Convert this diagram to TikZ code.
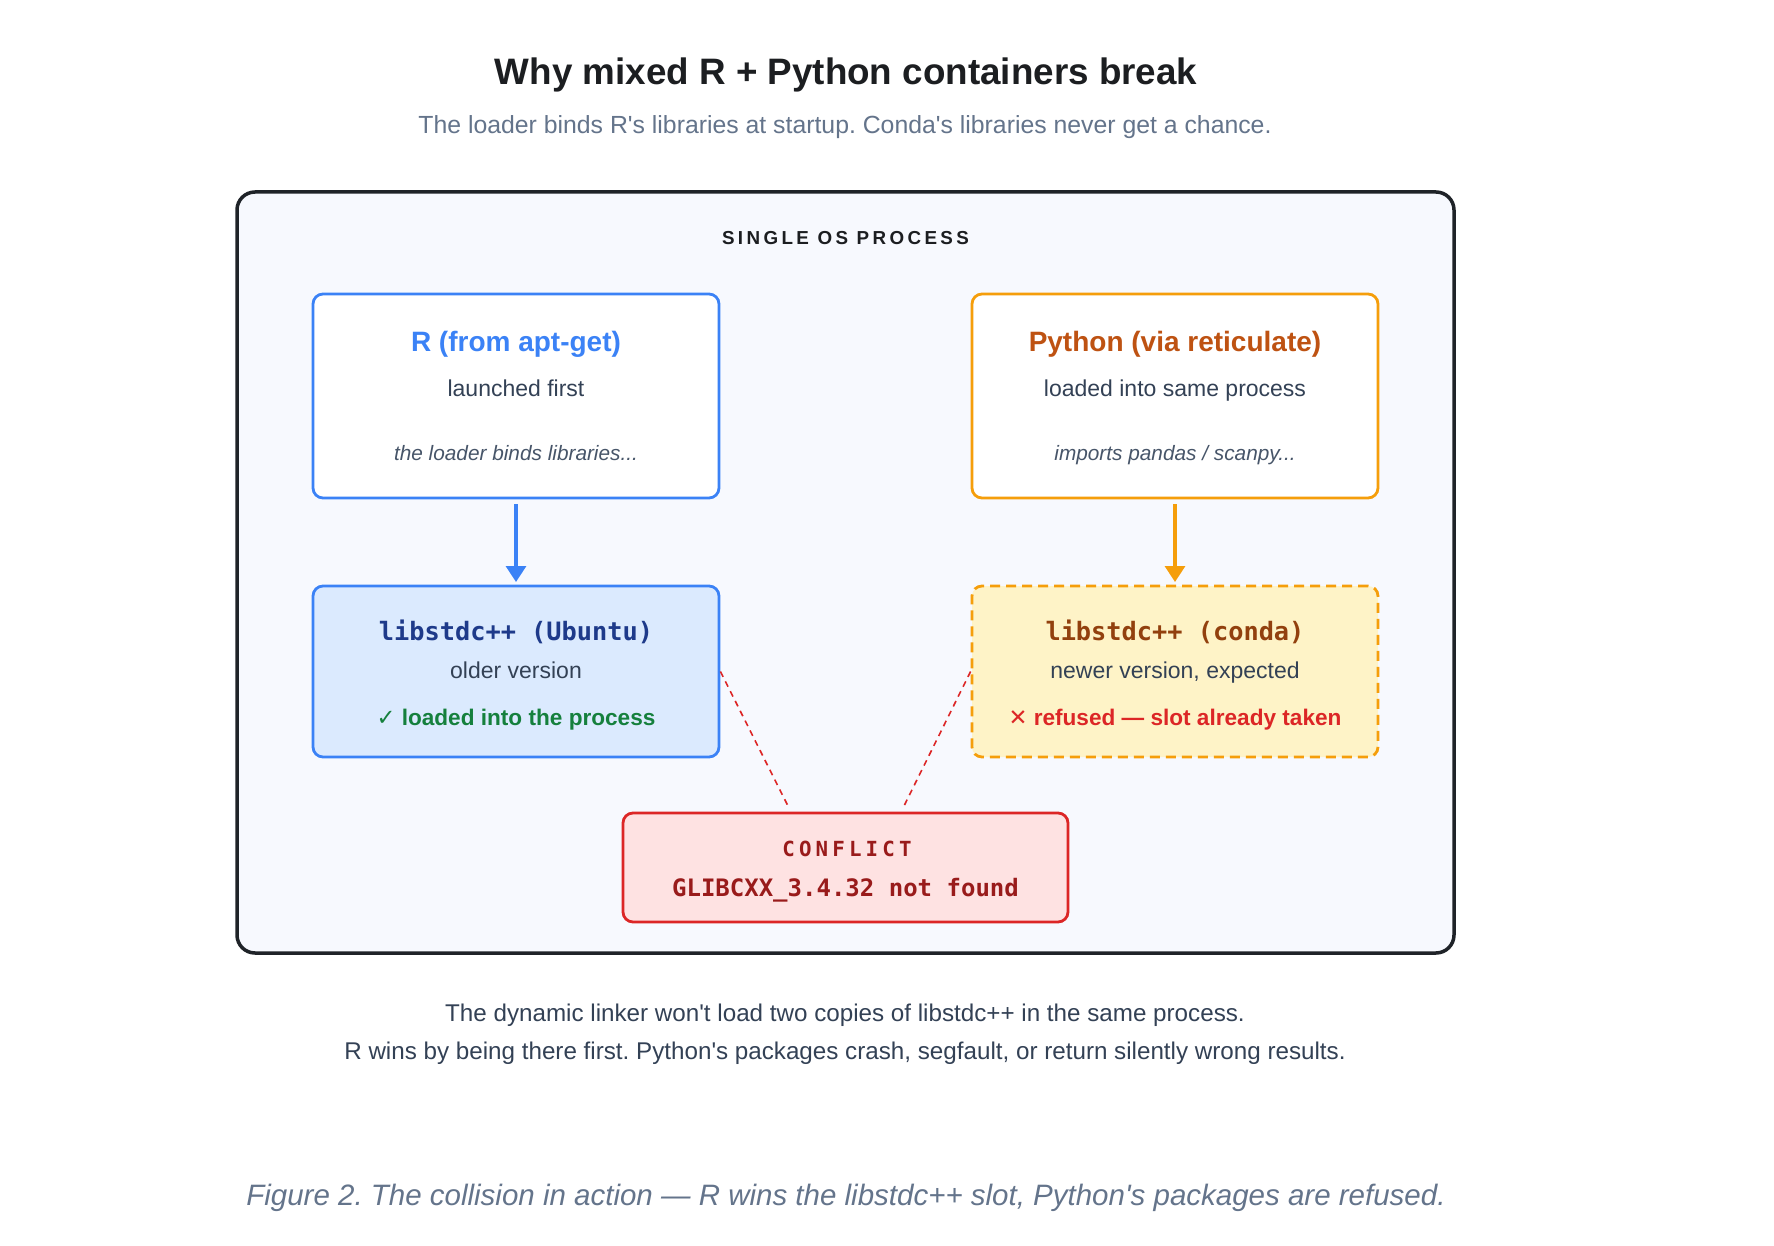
\documentclass[tikz,border=0pt]{standalone}
\usepackage{fontspec}
\usepackage{xcolor}
\setmainfont{Liberation Sans}
\setmonofont{DejaVu Sans Mono}
\newfontfamily\symfont{DejaVu Sans}
\newfontfamily\trackfont{Liberation Sans}[LetterSpace=18]
\newfontfamily\trackmono{DejaVu Sans Mono}[LetterSpace=20]
\usetikzlibrary{arrows.meta,positioning,calc}
\frenchspacing

\definecolor{inkdark}{HTML}{1C1E21}
\definecolor{inksub}{HTML}{64748B}
\definecolor{inkbody}{HTML}{334155}
\definecolor{inknote}{HTML}{475569}
\definecolor{procfill}{HTML}{F7F9FE}
\definecolor{procline}{HTML}{1F2328}
\definecolor{rblue}{HTML}{3B82F6}
\definecolor{ulibfill}{HTML}{DBEAFE}
\definecolor{ulibtext}{HTML}{1E3A8A}
\definecolor{okgreen}{HTML}{15803D}
\definecolor{pyorange}{HTML}{F59E0B}
\definecolor{pytitle}{HTML}{BE5212}
\definecolor{clibfill}{HTML}{FEF3C7}
\definecolor{clibtext}{HTML}{92400E}
\definecolor{badred}{HTML}{DC2626}
\definecolor{conffill}{HTML}{FEE2E2}
\definecolor{conftext}{HTML}{991B1B}

\newcommand{\ap}{\textquotesingle}

\begin{document}
\begin{tikzpicture}[x=0.5pt,y=-0.5pt,>={Triangle[width=10pt,length=8pt]}]
  \tikzstyle{box}=[draw,line width=1.4pt,rounded corners=5pt,minimum width=203pt]
  \tikzstyle{txt}=[anchor=mid,inner sep=0pt,align=center]
  \tikzstyle{boxtitle}=[txt,font=\bfseries\fontsize{14}{16}\selectfont]
  \tikzstyle{libtitle}=[txt,font=\ttfamily\bfseries\fontsize{12.65}{15}\selectfont]
  \tikzstyle{body}=[txt,text=inkbody,font=\fontsize{11.5}{13}\selectfont]
  \tikzstyle{note}=[txt,text=inknote,font=\itshape\fontsize{10.4}{12}\selectfont]
  \tikzstyle{status}=[txt,font=\bfseries\fontsize{11.3}{13}\selectfont]
  \tikzstyle{foot}=[txt,text=inkbody,font=\fontsize{12.1}{14}\selectfont]
  \tikzstyle{link}=[badred,line width=0.8pt,dash pattern=on 3pt off 2.5pt]

  \fill[white] (0,0) rectangle (1774,1246);
  \useasboundingbox (0,0) rectangle (1774,1246);

  % heading
  \node[txt,text=inkdark,font=\bfseries\fontsize{18.4}{22}\selectfont] (title) at (846,79) {Why mixed R + Python containers break};
  \node[txt,text=inksub,font=\fontsize{12.4}{14}\selectfont] (subtitle) at (845,128) {The loader binds R\ap s libraries at startup. Conda\ap s libraries never get a chance.};

  % process frame
  \node[draw=procline,fill=procfill,line width=1.75pt,rounded corners=9pt,minimum width=608.5pt,minimum height=380.5pt] (proc) at (845.5,572.5) {};
  \node[txt,text=inkdark,font=\trackfont\bfseries\fontsize{9.4}{11}\selectfont] (proclbl) at (845.5,239) {SINGLE OS PROCESS};

  % R side
  \node[box,draw=rblue,fill=white,minimum height=102pt] (rbox) at (516,396) {};
  \node[boxtitle,text=rblue] (rtitle) at (516,346.5) {R (from apt-get)};
  \node[body] (rsub) at (516,391) {launched first};
  \node[note] (rnote) at (516,455) {the loader binds libraries...};

  \node[box,draw=rblue,fill=ulibfill,minimum height=85.5pt] (ulib) at (516,671.5) {};
  \node[libtitle,text=ulibtext] (utitle) at (516,635.5) {libstdc++ (Ubuntu)};
  \node[body] (usub) at (516,673.5) {older version};
  \node[status,text=okgreen] (ustat) at (516,720.5) {{\symfont\bfseries ✓} loaded into the process};

  % Python side
  \node[box,draw=pyorange,fill=white,minimum height=102pt] (pybox) at (1175,396) {};
  \node[boxtitle,text=pytitle] (ptitle) at (1175,346.5) {Python (via reticulate)};
  \node[body] (psub) at (1175,391) {loaded into same process};
  \node[note] (pnote) at (1175,455) {imports pandas / scanpy...};

  \node[box,draw=pyorange,fill=clibfill,dash pattern=on 5pt off 3pt,minimum height=85.5pt] (clib) at (1175,671.5) {};
  \node[libtitle,text=clibtext] (ctitle) at (1175,635.5) {libstdc++ (conda)};
  \node[body] (csub) at (1175,673.5) {newer version, expected};
  \node[status,text=badred] (cstat) at (1175,720.5) {{\symfont ✕} refused — slot already taken};

  \draw[->,rblue,line width=1.6pt,shorten <=2.3pt,shorten >=1.3pt] (rbox) -- (ulib);
  \draw[->,pyorange,line width=1.6pt,shorten <=2.3pt,shorten >=1.3pt] (pybox) -- (clib);

  % conflict
  \node[draw=badred,fill=conffill,line width=1.4pt,rounded corners=5pt,minimum width=222.5pt,minimum height=54.5pt] (conf) at (845.5,867.5) {};
  \node[txt,text=conftext,font=\trackmono\bfseries\fontsize{10.4}{12}\selectfont] (conflbl) at (847,851) {CONFLICT};
  \node[txt,text=conftext,font=\ttfamily\bfseries\fontsize{12}{14}\selectfont] (confmsg) at (845.5,891.5) {GLIBCXX\_3.4.32 not found};
  \coordinate (confl) at (789,808);
  \coordinate (confr) at (903,808);
  \draw[link] (ulib.east) -- (confl);
  \draw[link] (clib.west) -- (confr);

  % footer
  \node[foot] (foot1) at (845,1016.5) {The dynamic linker won\ap t load two copies of libstdc++ in the same process.};
  \node[foot] (foot2) at (845,1054.5) {R wins by being there first. Python\ap s packages crash, segfault, or return silently wrong results.};
  \node[txt,text=inksub,font=\itshape\fontsize{14.75}{17}\selectfont] (caption) at (846,1200.5) {Figure 2. The collision in action — R wins the libstdc++ slot, Python\ap s packages are refused.};
\end{tikzpicture}
\end{document}
